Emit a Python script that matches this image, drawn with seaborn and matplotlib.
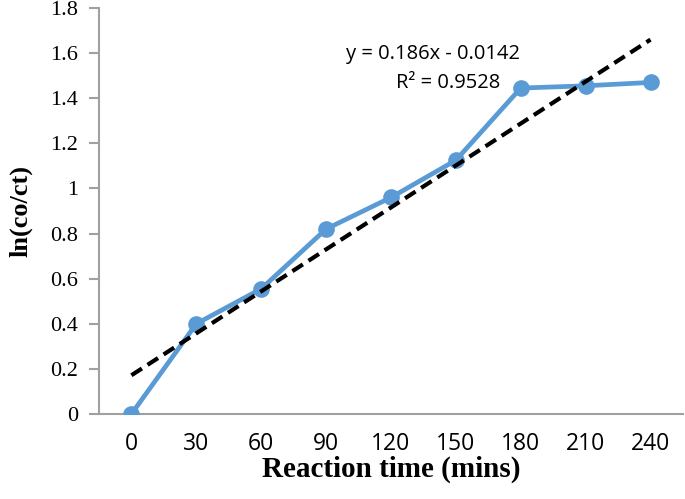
import numpy as np
import pandas as pd
import matplotlib
matplotlib.use('Agg')
import matplotlib.pyplot as plt
import seaborn as sn

# data
times = [0, 30, 60, 90, 120, 150, 180, 210, 240]
ln_ratio = [0.0, 0.40, 0.555, 0.82, 0.96, 1.125, 1.445, 1.455, 1.47]
y_ticks = [0, 0.2, 0.4, 0.6, 0.8, 1.0, 1.2, 1.4, 1.6, 1.8]
y_tick_labels = ['0', '0.2', '0.4', '0.6', '0.8', '1', '1.2', '1.4', '1.6', '1.8']

# Excel linear trendline (x = point index 1..n)
slope = 0.186
intercept = -0.0142
r2 = 0.9528

df = pd.DataFrame({'pos': np.arange(len(times)), 'y': ln_ratio})

sn.set_style('white')
plt.rcParams['text.color'] = 'black'
plt.rcParams['axes.labelcolor'] = 'black'
plt.rcParams['xtick.labelcolor'] = 'black'
plt.rcParams['ytick.labelcolor'] = 'black'

fig = plt.figure(figsize=(6.85, 4.99), dpi=100)
ax = fig.add_axes([0.1445, 0.1703, 0.8525, 0.8137])

sn.lineplot(data=df, x='pos', y='y', ax=ax, color='#5B9BD5', linewidth=3.4,
            marker='o', markersize=12, markeredgewidth=0, zorder=3)

# trendline drawn from the stated equation
trend_x = df['pos'].values
trend_y = slope * (trend_x + 1) + intercept
ax.plot(trend_x, trend_y, color='black', linewidth=3, linestyle=(0, (3, 1.6)), zorder=4)

ax.set_xlim(-0.5, len(times) - 0.5)
ax.set_ylim(0, 1.8)
ax.set_yticks(y_ticks)
ax.set_yticklabels(y_tick_labels, fontfamily='Liberation Serif', fontsize=16)
ax.set_xticks(df['pos'])
ax.set_xticklabels([str(t) for t in times], fontfamily='Open Sans', fontsize=16.5)
ax.set_xticks(np.arange(-0.5, len(times), 1), minor=True)

ax.tick_params(axis='x', which='major', length=0, pad=13)
ax.tick_params(axis='x', which='minor', length=7, width=1.5, color='#A0A0A0', direction='out')
ax.tick_params(axis='y', length=7, width=1.5, color='#A0A0A0', direction='out', pad=8, left=True)

for side in ['top', 'right']:
    ax.spines[side].set_visible(False)
for side in ['left', 'bottom']:
    ax.spines[side].set_color('#A0A0A0')
    ax.spines[side].set_linewidth(1.5)

ax.set_xlabel('Reaction time (mins)', fontfamily='Liberation Serif', fontweight='bold',
              fontsize=21, labelpad=0)
ax.set_ylabel('ln(co/ct)', fontfamily='Liberation Serif', fontweight='bold',
              fontsize=19, labelpad=13)

fig.text(433 / 685, 1 - 54 / 499, f'y = {slope}x - {abs(intercept)}', ha='center', va='center',
         fontfamily='Open Sans', fontsize=14.5)
fig.text(500 / 685, 1 - 83 / 499, f'R² = {r2}', ha='right', va='center',
         fontfamily='Open Sans', fontsize=14.5)

plt.savefig('out.png', dpi=100)
